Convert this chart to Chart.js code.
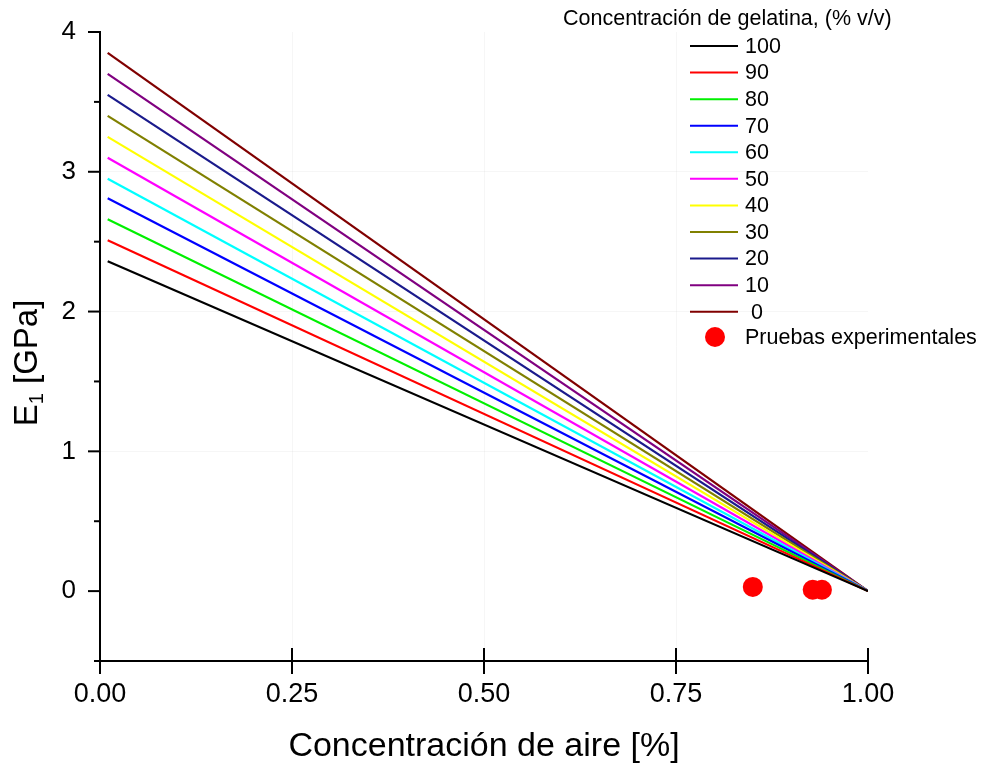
<!DOCTYPE html>
<html>
<head>
<meta charset="utf-8">
<script src="https://cdn.jsdelivr.net/npm/chart.js@4.4.0/dist/chart.umd.min.js"></script>
<style>
  html, body { margin: 0; background: #fff; }
</style>
</head>
<body>
<canvas id="moduloChart" width="984" height="770"></canvas>
<script>
// Datos
const gelatina = ['100', '90', '80', '70', '60', '50', '40', '30', '20', '10', '0'];
const colores = ['#000000', '#ff0000', '#00f000', '#0000ff', '#00ffff', '#ff00ff',
                 '#ffff00', '#808000', '#1a1a8c', '#800080', '#800000'];
const aireInicio = 0.01;
const aireFin = 1.0;
const eInicio = [2.36, 2.51, 2.66, 2.81, 2.95, 3.10, 3.25, 3.40, 3.55, 3.70, 3.85];
const eFin = 0;
const airePruebas = [0.85, 0.928, 0.94];
const ePruebas = [0.03, 0.01, 0.01];
const xTicks = [0, 0.25, 0.5, 0.75, 1];

const FONT = '"Liberation Sans", Arial, sans-serif';

const datasets = gelatina.map((g, i) => ({
    label: g,
    data: [{ x: aireInicio, y: eInicio[i] }, { x: aireFin, y: eFin }],
    showLine: true,
    borderColor: colores[i],
    backgroundColor: colores[i],
    borderWidth: 2.2,
    pointRadius: 0,
    tension: 0
}));

datasets.push({
    label: 'Pruebas experimentales',
    data: airePruebas.map((x, i) => ({ x, y: ePruebas[i] })),
    showLine: false,
    backgroundColor: '#ff0000',
    borderWidth: 0,
    pointRadius: 10
});

// ejes, títulos y leyenda dibujados a mano
const decoracion = {
    id: 'decoracion',
    afterDraw(chart) {
        const ctx = chart.ctx;
        const xs = chart.scales.x, ys = chart.scales.y;
        const a = chart.chartArea;
        ctx.save();
        ctx.strokeStyle = '#000';
        ctx.lineWidth = 2;
        ctx.lineCap = 'butt';

        // eje Y
        const x0 = xs.getPixelForValue(0);
        ctx.beginPath();
        ctx.moveTo(x0, ys.getPixelForValue(4) - 1);
        ctx.lineTo(x0, a.bottom);
        ctx.stroke();
        for (let v = 4; v >= -0.5; v -= 0.5) {
            const y = ys.getPixelForValue(v);
            const len = Number.isInteger(v) ? 12 : 6;
            ctx.beginPath();
            ctx.moveTo(x0 - len, y);
            ctx.lineTo(x0, y);
            ctx.stroke();
        }

        // eje X
        ctx.beginPath();
        ctx.moveTo(x0 - 6, a.bottom);
        ctx.lineTo(xs.getPixelForValue(1), a.bottom);
        ctx.stroke();
        xTicks.forEach(v => {
            const x = xs.getPixelForValue(v);
            ctx.beginPath();
            ctx.moveTo(x, a.bottom - 13);
            ctx.lineTo(x, a.bottom + 13);
            ctx.stroke();
        });

        // títulos
        ctx.fillStyle = '#000';
        ctx.textBaseline = 'middle';
        ctx.textAlign = 'center';
        ctx.font = '34px ' + FONT;
        ctx.fillText('Concentración de aire [%]', (xs.getPixelForValue(0) + xs.getPixelForValue(1)) / 2, 747);

        ctx.save();
        ctx.translate(28, 363);
        ctx.rotate(-Math.PI / 2);
        ctx.textAlign = 'left';
        ctx.font = '33px ' + FONT;
        const w1 = ctx.measureText('E').width;
        ctx.font = '20px ' + FONT;
        const w2 = ctx.measureText('1').width;
        ctx.font = '33px ' + FONT;
        const w3 = ctx.measureText(' [GPa]').width;
        let sx = -(w1 + w2 + w3) / 2;
        ctx.fillText('E', sx, 0);
        ctx.font = '20px ' + FONT;
        ctx.fillText('1', sx + w1, 9);
        ctx.font = '33px ' + FONT;
        ctx.fillText(' [GPa]', sx + w1 + w2, 0);
        ctx.restore();

        // leyenda
        ctx.textAlign = 'left';
        ctx.font = '21.5px ' + FONT;
        ctx.fillText('Concentración de gelatina, (% v/v)', 563, 19);
        gelatina.forEach((g, i) => {
            const y = 46 + i * 26.57;
            ctx.strokeStyle = colores[i];
            ctx.lineWidth = 2;
            ctx.beginPath();
            ctx.moveTo(690, y);
            ctx.lineTo(738, y);
            ctx.stroke();
            ctx.fillText(g, g === '0' ? 751 : 745, y + 1);
        });
        ctx.fillStyle = '#ff0000';
        ctx.beginPath();
        ctx.arc(715, 337, 10, 0, Math.PI * 2);
        ctx.fill();
        ctx.fillStyle = '#000';
        ctx.fillText('Pruebas experimentales', 745, 338);
        ctx.restore();
    }
};

const gridSuave = 'rgba(0,0,0,0.035)';

new Chart(document.getElementById('moduloChart'), {
    type: 'scatter',
    data: { datasets },
    options: {
        responsive: false,
        animation: false,
        layout: { padding: { left: 0, right: 116, top: 32, bottom: 0 } },
        plugins: { legend: { display: false }, tooltip: { enabled: false } },
        scales: {
            x: {
                type: 'linear',
                min: 0,
                max: 1,
                afterFit: s => { s.height = 109; s.paddingLeft = 0; s.paddingRight = 0; },
                afterBuildTicks: s => { s.ticks = xTicks.map(v => ({ value: v })); },
                border: { display: false },
                grid: {
                    drawTicks: false,
                    color: c => (c.tick && c.tick.value > 0 && c.tick.value < 1) ? gridSuave : 'transparent'
                },
                ticks: {
                    padding: 17,
                    color: '#000',
                    font: { family: FONT, size: 27 },
                    callback: v => v.toFixed(2)
                }
            },
            y: {
                type: 'linear',
                min: -0.5,
                max: 4,
                afterFit: s => { s.width = 100; s.paddingTop = 0; s.paddingBottom = 0; },
                border: { display: false },
                grid: {
                    drawTicks: false,
                    color: c => (c.tick && Number.isInteger(c.tick.value) && c.tick.value > 0 && c.tick.value < 4) ? gridSuave : 'transparent'
                },
                ticks: {
                    stepSize: 0.5,
                    padding: 24,
                    color: '#000',
                    font: { family: FONT, size: 26 },
                    callback: v => Number.isInteger(v) ? String(v) : ''
                }
            }
        }
    },
    plugins: [decoracion]
});
</script>
</body>
</html>
